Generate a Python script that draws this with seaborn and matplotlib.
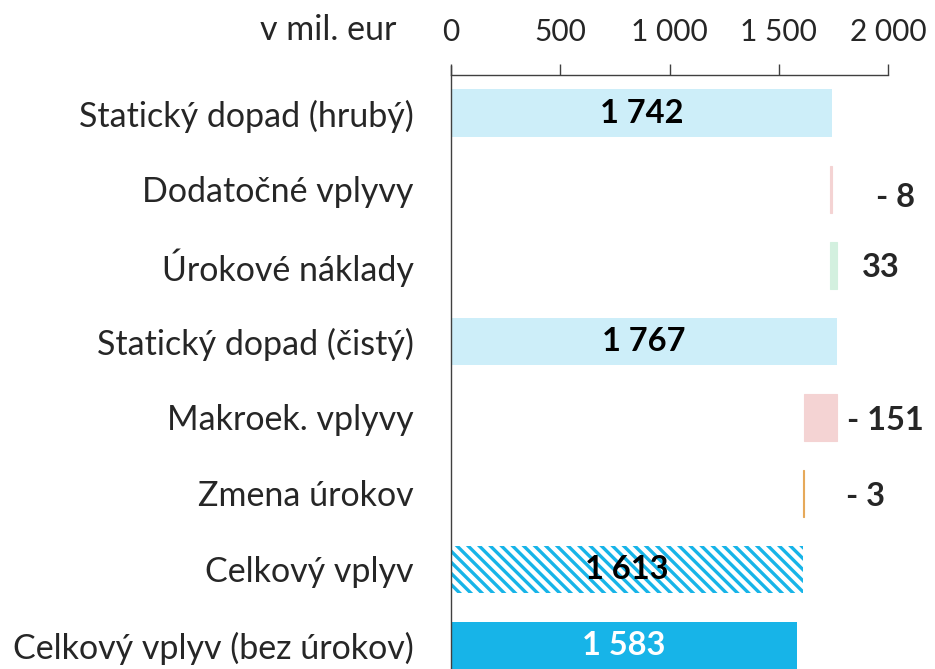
import matplotlib
matplotlib.use("Agg")
import matplotlib.pyplot as plt
import seaborn as sns
import numpy as np

# data
categories = ["Statický dopad (hrubý)", "Dodatočné vplyvy", "Úrokové náklady",
              "Statický dopad (čistý)", "Makroek. vplyvy", "Zmena úrokov",
              "Celkový vplyv", "Celkový vplyv (bez úrokov)"]
values = [1742, -8, 33, 1767, -151, -3, 1613, 1583]
is_total = [True, False, False, True, False, False, True, True]
xticks = [0, 500, 1000, 1500, 2000]

sns.set_style("white")
plt.rcParams['font.family'] = ['Lato', 'DejaVu Sans']
plt.rcParams['hatch.linewidth'] = 2.4

colors = ["#cdeef9", "#f4d3d3", "#d3f0df", "#cdeef9", "#f4d3d3", "#e6a95a", "white", "#17b4e8"]

# waterfall: start of each bar
lefts, widths = [], []
running = 0
for v, tot in zip(values, is_total):
    if tot:
        lefts.append(0)
        widths.append(v)
        running = v
    else:
        lefts.append(running)
        widths.append(v)
        running += v

def fmt(v):
    s = f"{abs(v):,}".replace(",", " ")
    return f"- {s}" if v < 0 else s

fig = plt.figure(figsize=(9.35, 6.69), dpi=100)
ax = fig.add_axes([451 / 935, 0, 437 / 935, (669 - 75) / 669])

y = np.arange(len(categories))
for i in range(len(categories)):
    kw = dict(color=colors[i], height=0.62, linewidth=0)
    if i == 6:
        kw.update(hatch="\\\\\\", edgecolor="#17b4e8")
    elif not is_total[i]:
        kw.update(edgecolor=colors[i], linewidth=0.8)
    ax.barh(y[i], widths[i], left=lefts[i], **kw)

# label offsets (points) for the change bars
offs = {1: (32, -6), 2: (18, -2), 4: (7, -2), 5: (30, -2)}
for i, (v, tot) in enumerate(zip(values, is_total)):
    if tot:
        ax.text(v / 2, y[i], fmt(v), ha="center", va="center", fontsize=23.5,
                fontweight="bold", color="white" if i == 7 else "black")
    else:
        right = max(lefts[i], lefts[i] + widths[i])
        ax.annotate(fmt(v), (right, y[i]), xytext=offs[i], textcoords="offset points",
                    ha="left", va="center", fontsize=23.5, fontweight="bold")

ax.set_xlim(0, 2000)
ax.set_ylim(7.31, -0.5)
ax.set_yticks(y)
ax.set_yticklabels(categories, fontsize=24.5)
ax.set_xticks(xticks)
ax.set_xticklabels([fmt(t) for t in xticks], fontsize=21.5)
ax.xaxis.tick_top()
ax.tick_params(axis="x", direction="out", length=8, width=1, color="#404040", pad=13)
ax.tick_params(axis="y", length=0, pad=27)
for s in ["right", "bottom"]:
    ax.spines[s].set_visible(False)
for s in ["top", "left"]:
    ax.spines[s].set_color("#404040")
    ax.spines[s].set_linewidth(1)
ax.spines["left"].set_bounds(7.31, -0.62)

fig.text(328 / 935, 1 - 30 / 669, "v mil. eur", ha="center", va="center", fontsize=24.5)

fig.savefig("out.png", dpi=100)
